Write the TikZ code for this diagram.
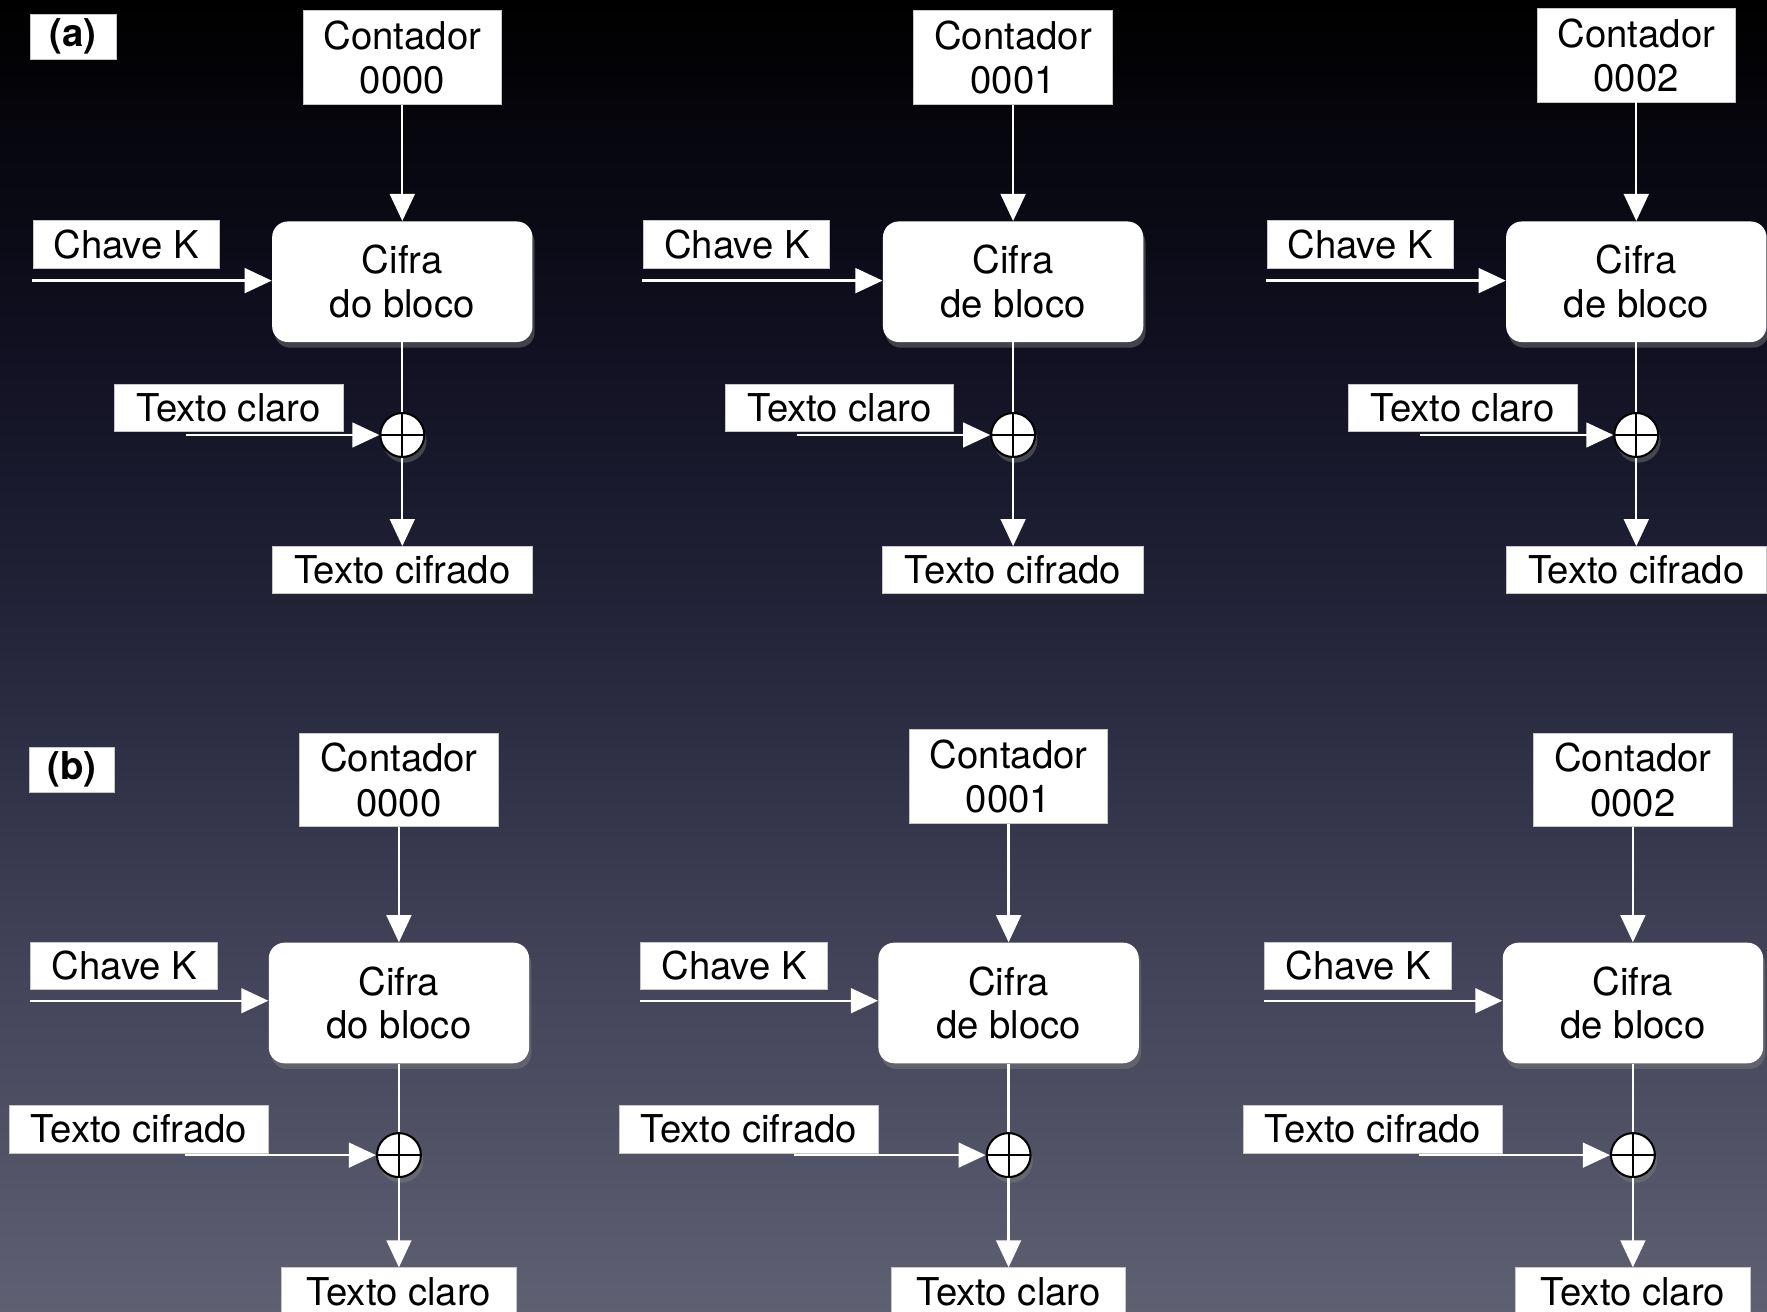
\documentclass[tikz,border=0pt]{standalone}
\usepackage{fontspec}
\setmainfont{TeX Gyre Heros}
\usetikzlibrary{arrows.meta,shadows}

% background fade, black at the top to slate grey at the bottom
\definecolor{bgA}{HTML}{000000}
\definecolor{bgB}{HTML}{0F0F20}
\definecolor{bgC}{HTML}{26263C}
\definecolor{bgD}{HTML}{44445A}
\definecolor{bgE}{HTML}{606073}
\pgfdeclareverticalshading{bgfade}{100bp}{color(0bp)=(bgE); color(25bp)=(bgE);
  color(37.5bp)=(bgD); color(50bp)=(bgC); color(62.5bp)=(bgB); color(75bp)=(bgA);
  color(100bp)=(bgA)}

\tikzset{
  lbl/.style={fill=white, draw=gray!45, line width=0.4pt, inner sep=0pt,
    align=center, font=\fontsize{17}{19.7}\selectfont},
  tag/.style={lbl, font=\fontsize{17}{19.7}\selectfont\bfseries,
    minimum width=38pt, minimum height=20pt},
  ctrbox/.style={lbl, minimum width=88pt, minimum height=41.5pt},
  cifra/.style={fill=white, rounded corners=7pt, inner sep=0pt, align=center,
    minimum width=115.5pt, minimum height=53.5pt,
    font=\fontsize{17}{19.5}\selectfont,
    drop shadow={shadow xshift=1pt, shadow yshift=-2.5pt, opacity=0.45}},
  xor/.style={circle, fill=white, draw=black, line width=0.9pt, inner sep=0pt,
    minimum size=19.5pt,
    drop shadow={shadow xshift=1pt, shadow yshift=-2.5pt, opacity=0.45},
    path picture={\draw[black, line width=0.9pt]
      (path picture bounding box.north) -- (path picture bounding box.south)
      (path picture bounding box.west) -- (path picture bounding box.east);}},
  wire/.style={draw=white, line width=1pt},
  arr/.style={wire, -{Triangle[length=12pt, width=11pt, fill=white]}}
}

\begin{document}
\begin{tikzpicture}[x=0.5pt, y=-0.5pt]
\shade[shading=bgfade] (0,0) rectangle (1568,1164);
\useasboundingbox (0,0) rectangle (1568,1164);
\clip (0,0) rectangle (1568,1164);

% ---- (a) encryption ----
\node[tag] (tagA) at (65,32.5) {(a)};
\foreach \c/\ctr/\w/\cy/\i in {357/0000/do/51/1, 899/0001/de/51/2, 1452/0002/de/49/3}{
  \node[ctrbox] (ctrA\i) at (\c,\cy) {Contador\\\ctr};
  \node[cifra] (cifA\i) at (\c,250) {Cifra\\\w\ bloco};
  \node[lbl, anchor=west, minimum width=82.5pt, minimum height=21pt]
    (keyA\i) at (\c-328,217) {Chave K};
  \node[lbl, anchor=west, minimum width=101.5pt, minimum height=21pt]
    (inA\i) at (\c-256,362) {Texto claro};
  \node[xor] (xorA\i) at (\c,386) {};
  \node[lbl, minimum width=115.5pt, minimum height=21pt]
    (outA\i) at (\c,506) {Texto cifrado};
  \coordinate (kA\i) at (\c-329,249);
  \coordinate (pA\i) at (\c-192,386);
  \draw[arr] (ctrA\i) -- (cifA\i);
  \draw[arr] (kA\i) -- (kA\i -| cifA\i.west);
  \draw[wire] (cifA\i) -- (xorA\i);
  \draw[arr] (pA\i) -- (xorA\i);
  \draw[arr] (xorA\i) -- (outA\i);
}

% ---- (b) decryption ----
\node[tag] (tagB) at (64,683) {(b)};
\foreach \c/\ctr/\w/\cy/\i in {354/0000/do/692/1, 895/0001/de/689/2, 1449/0002/de/692/3}{
  \node[ctrbox] (ctrB\i) at (\c,\cy) {Contador\\\ctr};
  \node[cifra] (cifB\i) at (\c,890) {Cifra\\\w\ bloco};
  \node[lbl, anchor=west, minimum width=83pt, minimum height=21pt]
    (keyB\i) at (\c-327,857) {Chave K};
  \node[lbl, anchor=west, minimum width=115pt, minimum height=21.5pt]
    (inB\i) at (\c-346,1002) {Texto cifrado};
  \node[xor] (xorB\i) at (\c,1025) {};
  \node[lbl, minimum width=104pt, minimum height=21pt]
    (outB\i) at (\c,1146) {Texto claro};
  \coordinate (kB\i) at (\c-327,888);
  \coordinate (pB\i) at (\c-190,1025);
  \draw[arr] (ctrB\i) -- (cifB\i);
  \draw[arr] (kB\i) -- (kB\i -| cifB\i.west);
  \draw[wire] (cifB\i) -- (xorB\i);
  \draw[arr] (pB\i) -- (xorB\i);
  \draw[arr] (xorB\i) -- (outB\i);
}
\end{tikzpicture}
\end{document}
